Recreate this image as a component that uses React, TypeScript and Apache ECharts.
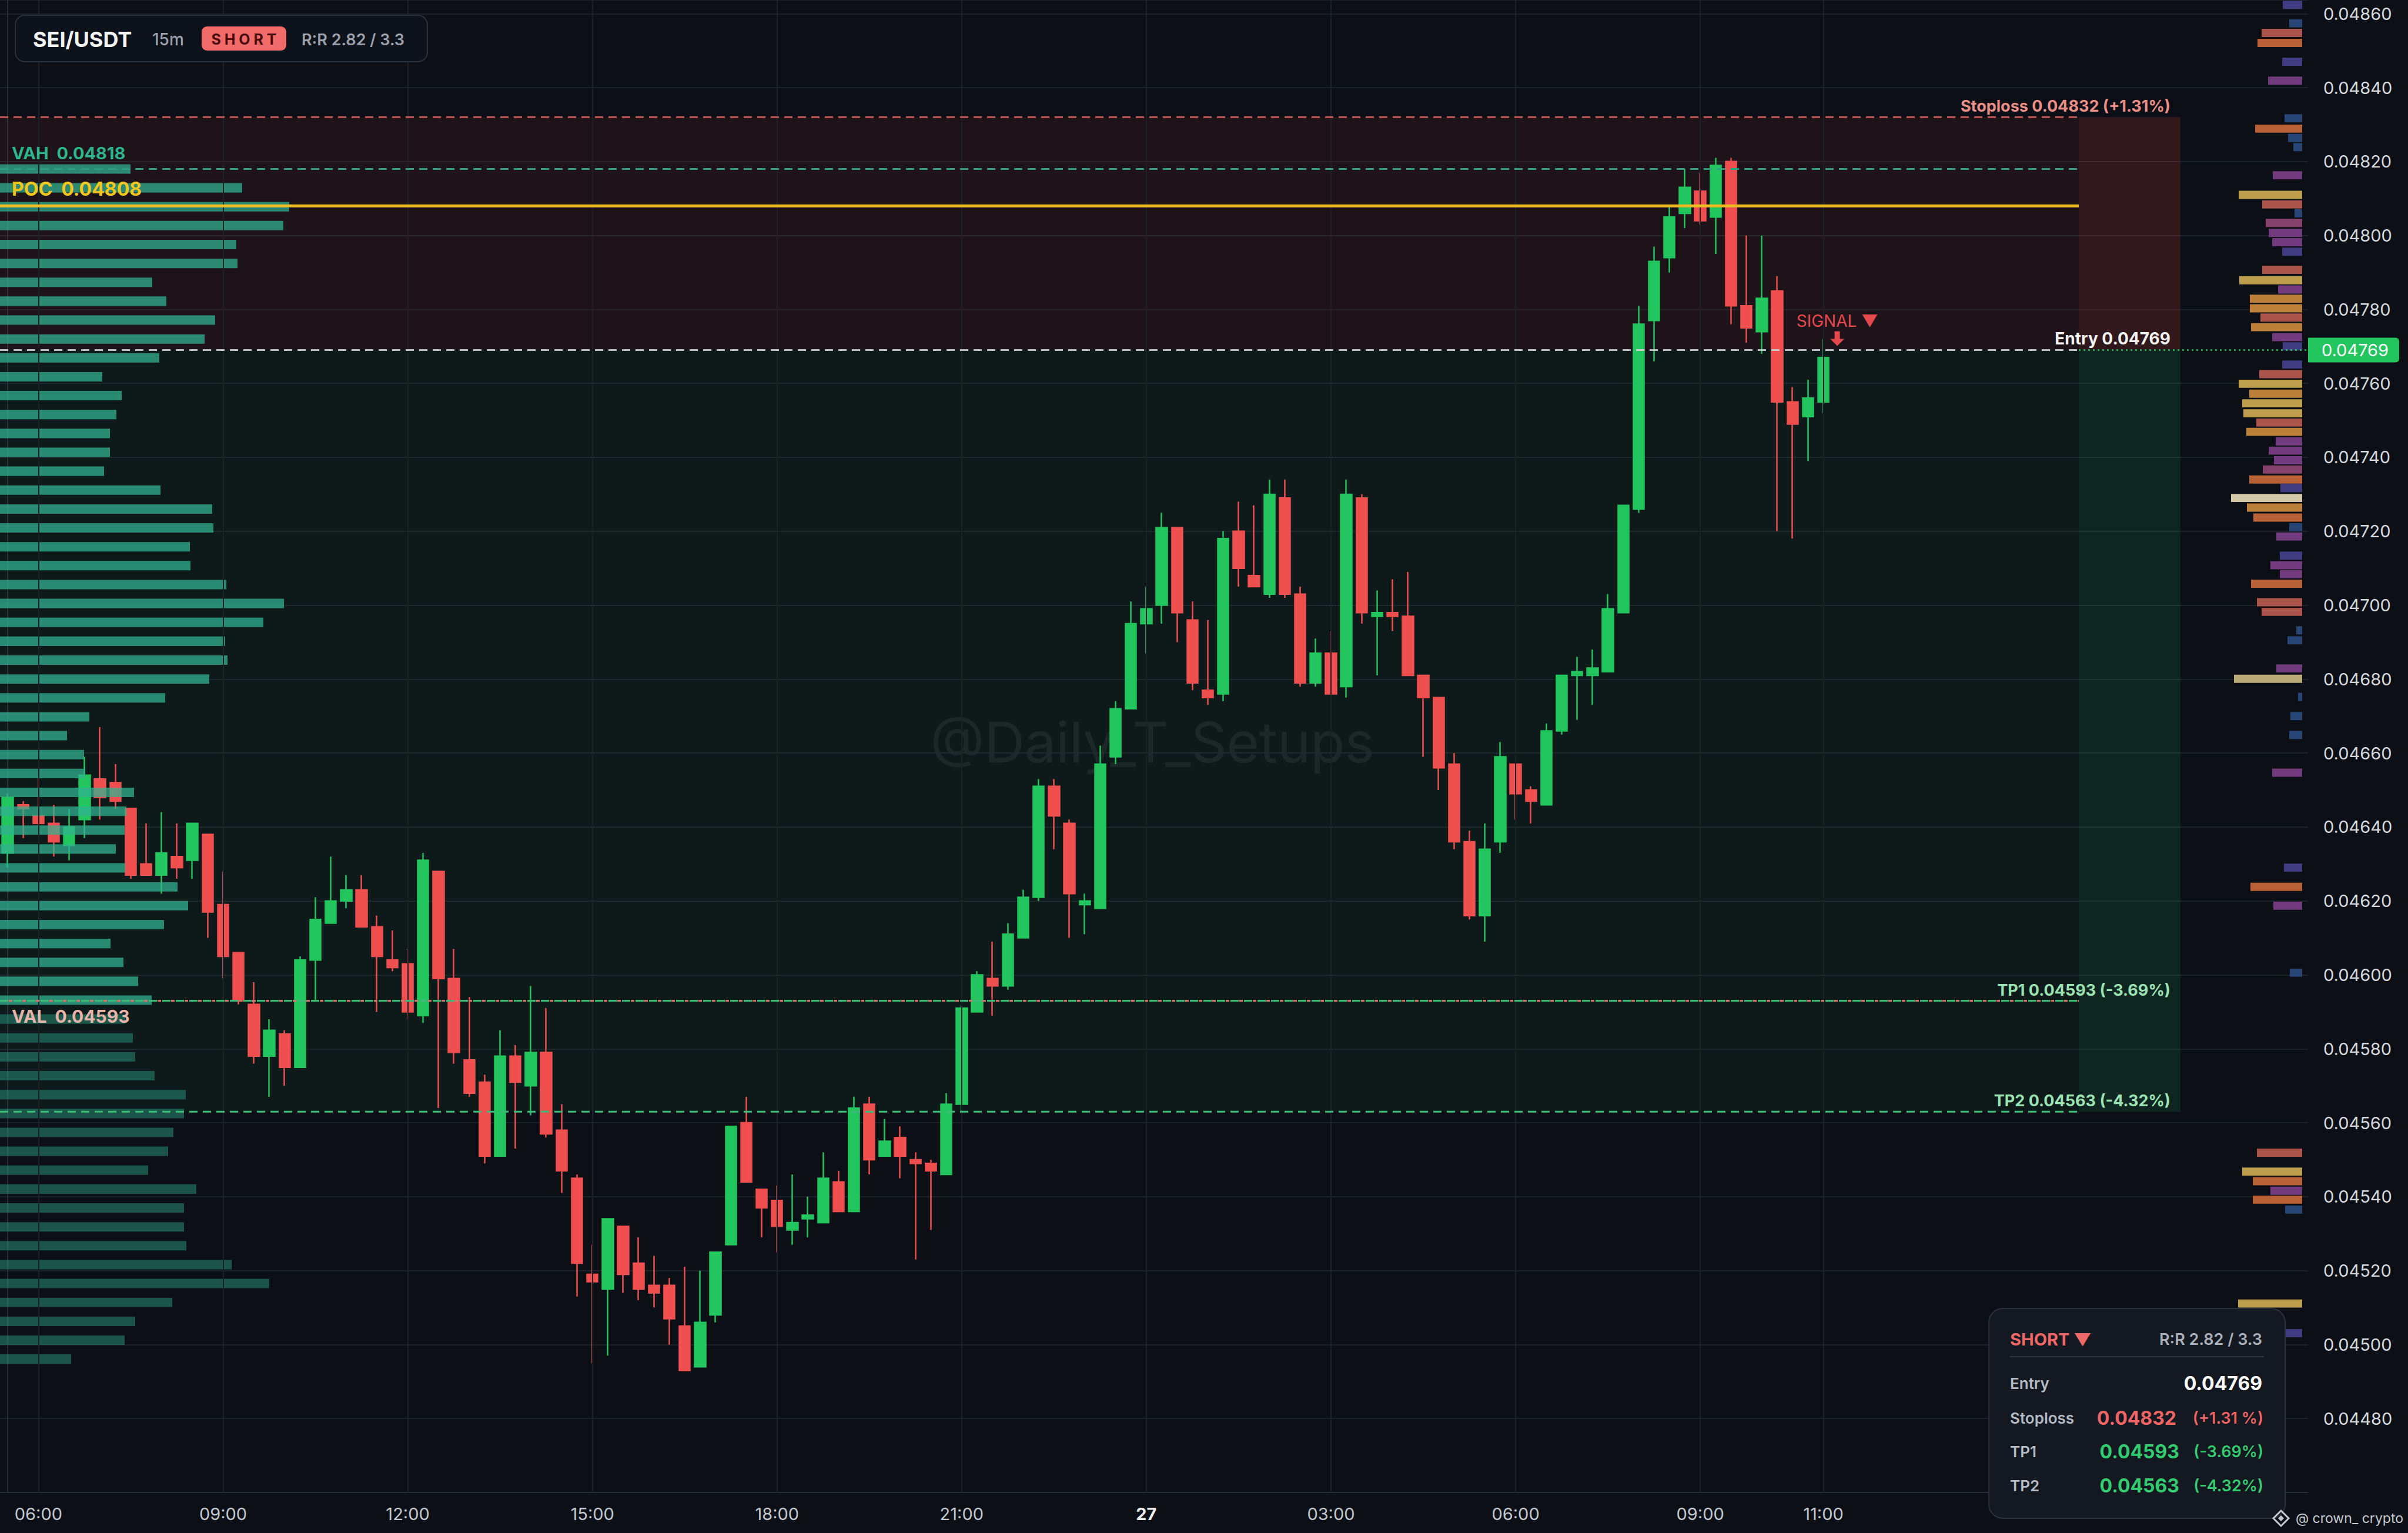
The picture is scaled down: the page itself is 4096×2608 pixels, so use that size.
import React, { useEffect, useRef } from "react";
import * as echarts from "echarts";

// ---------------- DATA ----------------
// 15m candles, 26th 05:30 -> 27th 11:00 (119 candles)
const openVals = [
  0.04633, 0.04646, 0.04643, 0.04641, 0.04635, 0.04642, 0.04653, 0.04652, 0.04645, 0.0463,
  0.04627, 0.04632, 0.04631, 0.04638, 0.04619, 0.04606, 0.04592, 0.04578, 0.04584, 0.04575,
  0.04604, 0.04614, 0.0462, 0.04623, 0.04613, 0.04604, 0.04603, 0.04589, 0.04628, 0.04599,
  0.04577, 0.04571, 0.04551, 0.04578, 0.0457, 0.04579, 0.04558, 0.04545, 0.04519, 0.04515,
  0.04532, 0.04522, 0.04516, 0.04516, 0.04505, 0.04494, 0.04508, 0.04527, 0.0456, 0.04542,
  0.04539, 0.04531, 0.04534, 0.04533, 0.04544, 0.04536, 0.04565, 0.04551, 0.04556, 0.0455,
  0.04549, 0.04546, 0.04565, 0.0459, 0.04599, 0.04597, 0.0461, 0.04621, 0.04651, 0.04641,
  0.04619, 0.04618, 0.04659, 0.04672, 0.04695, 0.047, 0.04721, 0.04696, 0.04677, 0.04676,
  0.0472, 0.04708, 0.04703, 0.04729, 0.04703, 0.04679, 0.04687, 0.04678, 0.04729, 0.04697,
  0.04698, 0.04697, 0.04681, 0.04675, 0.04657, 0.04636, 0.04616, 0.04636, 0.04657, 0.0465,
  0.04646, 0.04666, 0.04681, 0.04681, 0.04682, 0.04698, 0.04726, 0.04777, 0.04794, 0.04806,
  0.04812, 0.04805, 0.0482, 0.04781, 0.04774, 0.04785, 0.04755, 0.04751, 0.04755,
];
const closeVals = [
  0.04648, 0.04645, 0.04641, 0.04636, 0.0464, 0.04654, 0.04648, 0.04647, 0.04627, 0.04627,
  0.04633, 0.04629, 0.04641, 0.04617, 0.04605, 0.04593, 0.04578, 0.04585, 0.04575, 0.04604,
  0.04615, 0.0462, 0.04623, 0.04613, 0.04605, 0.04602, 0.0459, 0.04631, 0.04599, 0.04579,
  0.04568, 0.04551, 0.04578, 0.04571, 0.04579, 0.04557, 0.04547, 0.04522, 0.04517, 0.04534,
  0.04519, 0.04515, 0.04514, 0.04507, 0.04493, 0.04506, 0.04525, 0.04559, 0.04544, 0.04537,
  0.04532, 0.04533, 0.04535, 0.04545, 0.04536, 0.04564, 0.0455, 0.04555, 0.04551, 0.04549,
  0.04547, 0.04565, 0.04591, 0.046, 0.04597, 0.04611, 0.04621, 0.04651, 0.04643, 0.04622,
  0.0462, 0.04657, 0.04672, 0.04695, 0.04699, 0.04721, 0.04698, 0.04679, 0.04675, 0.04718,
  0.0471, 0.04705, 0.0473, 0.04703, 0.04679, 0.04687, 0.04676, 0.0473, 0.04698, 0.04698,
  0.04697, 0.04681, 0.04675, 0.04656, 0.04636, 0.04616, 0.04634, 0.04659, 0.04649, 0.04647,
  0.04666, 0.04681, 0.04682, 0.04683, 0.04699, 0.04727, 0.04776, 0.04793, 0.04805, 0.04813,
  0.04804, 0.04819, 0.04781, 0.04775, 0.04783, 0.04755, 0.04749, 0.04756, 0.04767,
];
const lowVals = [
  0.04629, 0.04637, 0.0464, 0.04632, 0.04631, 0.04637, 0.04642, 0.04645, 0.04626, 0.04627,
  0.04622, 0.04626, 0.04626, 0.0461, 0.04599, 0.04592, 0.04576, 0.04567, 0.0457, 0.04575,
  0.04593, 0.04614, 0.04618, 0.04613, 0.0459, 0.04601, 0.04588, 0.04587, 0.04564, 0.04576,
  0.04567, 0.04549, 0.04551, 0.04553, 0.04562, 0.04556, 0.04541, 0.04513, 0.04495, 0.04497,
  0.04514, 0.04512, 0.0451, 0.045, 0.04493, 0.04494, 0.04506, 0.04527, 0.04544, 0.04529,
  0.04525, 0.04527, 0.04529, 0.04533, 0.04536, 0.04536, 0.04546, 0.04551, 0.04545, 0.04523,
  0.04531, 0.04546, 0.04563, 0.0459, 0.04589, 0.04596, 0.0461, 0.0462, 0.04634, 0.0461,
  0.04611, 0.04618, 0.04657, 0.04672, 0.04687, 0.04695, 0.0469, 0.04677, 0.04673, 0.04674,
  0.04705, 0.04705, 0.04702, 0.04702, 0.04678, 0.04678, 0.04676, 0.04675, 0.04695, 0.04681,
  0.04693, 0.04681, 0.04659, 0.0465, 0.04634, 0.04615, 0.04609, 0.04633, 0.04642, 0.04641,
  0.04646, 0.04665, 0.04669, 0.04673, 0.04682, 0.04698, 0.04725, 0.04766, 0.0479, 0.04802,
  0.04803, 0.04795, 0.04776, 0.04771, 0.04768, 0.0472, 0.04718, 0.04739, 0.04752,
];
const highVals = [
  0.04649, 0.04647, 0.04654, 0.04646, 0.04645, 0.04659, 0.04667, 0.04657, 0.04645, 0.04641,
  0.04644, 0.04641, 0.04641, 0.04638, 0.04628, 0.04606, 0.04598, 0.04588, 0.04585, 0.04605,
  0.04621, 0.04632, 0.04627, 0.04627, 0.04616, 0.04612, 0.04607, 0.04633, 0.04628, 0.04607,
  0.04594, 0.04573, 0.04585, 0.04581, 0.04597, 0.04591, 0.04565, 0.04546, 0.04527, 0.04534,
  0.04532, 0.04529, 0.04524, 0.04518, 0.04521, 0.0452, 0.04525, 0.04559, 0.04567, 0.04542,
  0.04543, 0.04546, 0.0454, 0.04552, 0.04547, 0.04567, 0.04567, 0.04561, 0.04559, 0.04552,
  0.0455, 0.04568, 0.04592, 0.04601, 0.04609, 0.04614, 0.04623, 0.04653, 0.04653, 0.04642,
  0.04622, 0.04662, 0.04674, 0.04701, 0.04705, 0.04725, 0.04721, 0.04701, 0.04696, 0.0472,
  0.04728, 0.04727, 0.04734, 0.04734, 0.04705, 0.04691, 0.04693, 0.04734, 0.0473, 0.04704,
  0.04707, 0.04709, 0.04681, 0.04675, 0.0466, 0.04639, 0.04641, 0.04663, 0.04657, 0.04651,
  0.04668, 0.04681, 0.04686, 0.04688, 0.04703, 0.04727, 0.04781, 0.04797, 0.04808, 0.04818,
  0.04817, 0.04821, 0.04821, 0.048, 0.048, 0.04789, 0.04759, 0.04761, 0.04772,
];

// x axis: candle slots incl. empty future slots
const SLOT_COUNT = 150;
const xTickIndex = [2, 14, 26, 38, 50, 62, 74, 86, 98, 110, 118];
const xTickLabels = ["06:00", "09:00", "12:00", "15:00", "18:00", "21:00", "27", "03:00", "06:00", "09:00", "11:00"];

// y axis
const yMin = 0.0446;
const yMax = 0.048637;
const yStep = 0.0002;

// trade levels
const entryPrice = 0.04769;
const stopPrice = 0.04832;
const tp1Price = 0.04593;
const tp2Price = 0.04563;
const vahPrice = 0.04818;
const pocPrice = 0.04808;
const valPrice = 0.04593;
const stopPct = "+1.31%";
const stopPctBox = "+1.31 %";
const tp1Pct = "-3.69%";
const tp2Pct = "-4.32%";
const rrText = "R:R 2.82 / 3.3";

// zone extents (in candle-slot units)
const zoneStartX = -0.5;
const zoneEndX = 134.6;
const boxEndX = 141.2;
const labelEndX = 140.56;
const axisEndX = 149.5;
const signalX = 118.9;

// left volume profile (bins from VAH downwards)
const leftProfileTop = 0.04818;
const leftProfileBin = 0.0000511;
const leftValueAreaRows = 45;
const leftProfileVol = [
  222, 412, 492, 482, 402, 404, 259, 283, 366, 348, 271, 174, 207, 198, 187, 187, 177, 273, 361, 363,
  323, 324, 385, 483, 448, 383, 387, 356, 281, 152, 114, 143, 145, 228, 215, 212, 197, 213, 302, 320,
  279, 188, 210, 235, 258, 213, 226, 230, 263, 316, 313, 295, 286, 252, 334, 313, 313, 317, 394, 458,
  293, 230, 212, 121,
];

// right multi-colour profile
const rightProfileBin = 0.0000257;
const rightProfilePrice = [
  0.048624, 0.048574, 0.048548, 0.048521, 0.04847, 0.048419, 0.048317, 0.048289, 0.048264, 0.048239,
  0.048163, 0.04811, 0.048084, 0.04806, 0.048034, 0.048007, 0.047982, 0.047956, 0.047907, 0.047879,
  0.047854, 0.047829, 0.047803, 0.047778, 0.047752, 0.047725, 0.0477, 0.047651, 0.047625, 0.047599,
  0.047572, 0.047546, 0.047519, 0.047494, 0.047469, 0.047443, 0.047418, 0.047392, 0.047367, 0.04734,
  0.047317, 0.04729, 0.047264, 0.047237, 0.047211, 0.047186, 0.047134, 0.047108, 0.047084, 0.047058,
  0.047008, 0.046982, 0.046932, 0.046905, 0.046829, 0.046801, 0.046752, 0.0467, 0.046649, 0.046547,
  0.04629, 0.046238, 0.046187, 0.046006, 0.045519, 0.045468, 0.045442, 0.045416, 0.045392, 0.045365,
  0.045111, 0.045031,
];
const rightProfileVol = [
  33, 22, 69, 76, 34, 58, 30, 80, 24, 15,
  50, 108, 68, 13, 62, 57, 51, 34, 68, 107,
  41, 89, 89, 71, 87, 51, 33, 34, 73, 108,
  90, 102, 100, 78, 95, 45, 57, 48, 67, 90,
  37, 121, 94, 83, 22, 44, 38, 54, 38, 87,
  77, 69, 10, 25, 44, 116, 7, 20, 22, 51,
  31, 88, 49, 21, 77, 102, 84, 54, 84, 29,
  109, 30,
];
const rightProfileTone = [
  "i", "b", "s", "o", "i", "p", "b", "o", "b", "b",
  "p", "y", "s", "b", "k", "p", "p", "i", "s", "y",
  "p", "a", "a", "s", "a", "p", "i", "i", "s", "y",
  "a", "y", "y", "s", "a", "p", "p", "p", "k", "o",
  "i", "c", "a", "o", "b", "p", "i", "p", "p", "o",
  "s", "s", "b", "b", "p", "w", "b", "b", "b", "p",
  "i", "o", "p", "b", "s", "y", "o", "p", "o", "b",
  "y", "i",
];

// ---------------- STYLE ----------------
const BG = "#0c1016";
const GRID = "#1c2129";
const AXIS = "#272c35";
const UP = "#22c55e";
const DOWN = "#ef4f4f";
const FONT = 'Inter, "Noto Sans", "DejaVu Sans", sans-serif';
const rightPalette: Record<string, string> = {
  b: "#2a4b7e",
  i: "#463f8c",
  p: "#7b3f88",
  k: "#8f4775",
  s: "#b85a50",
  o: "#c8683a",
  a: "#cc8a3e",
  y: "#cdaa52",
  c: "#e4d8b5",
  w: "#c9b983",
};

const zones = [
  { x0: zoneStartX, x1: zoneEndX, y0: entryPrice, y1: stopPrice, fill: "rgba(239,68,68,0.075)" },
  { x0: zoneEndX, x1: boxEndX, y0: entryPrice, y1: stopPrice, fill: "rgba(239,68,68,0.17)" },
  { x0: zoneStartX, x1: zoneEndX, y0: tp2Price, y1: entryPrice, fill: "rgba(34,197,94,0.055)" },
  { x0: zoneEndX, x1: boxEndX, y0: tp2Price, y1: entryPrice, fill: "rgba(34,197,94,0.13)" },
];

const levels = [
  { x0: zoneStartX, x1: zoneEndX, p: stopPrice, color: "rgba(214,96,96,0.9)", width: 3, dash: [14, 9], offset: 0 },
  { x0: zoneStartX, x1: zoneEndX, p: vahPrice, color: "#2f9d80", width: 3, dash: [14, 9], offset: 0 },
  { x0: zoneStartX, x1: zoneEndX, p: pocPrice, color: "#e8b923", width: 5, dash: null, offset: 0 },
  { x0: zoneStartX, x1: zoneEndX, p: entryPrice, color: "rgba(214,216,220,0.85)", width: 3, dash: [14, 9], offset: 0 },
  { x0: zoneStartX, x1: zoneEndX, p: tp1Price, color: "#3dbb78", width: 3, dash: [14, 9], offset: 0 },
  { x0: zoneStartX, x1: zoneEndX, p: valPrice, color: "#d0766c", width: 3, dash: [6, 17], offset: 7.5 },
  { x0: zoneStartX, x1: zoneEndX, p: tp2Price, color: "#3dbb78", width: 3, dash: [14, 9], offset: 0 },
  { x0: zoneEndX, x1: axisEndX, p: entryPrice, color: "#2fcf6f", width: 2.5, dash: [3, 5], offset: 0 },
];

const levelLabels = [
  { x: zoneStartX, p: vahPrice, text: `VAH  ${vahPrice.toFixed(5)}`, color: "#2fb58d", size: 29, dx: 20, dy: -12, align: "left", va: "bottom" },
  { x: zoneStartX, p: pocPrice, text: `POC  ${pocPrice.toFixed(5)}`, color: "#f2c71d", size: 32, dx: 20, dy: -13, align: "left", va: "bottom" },
  { x: zoneStartX, p: valPrice, text: `VAL  ${valPrice.toFixed(5)}`, color: "#e6b4ab", size: 30, dx: 20, dy: 11, align: "left", va: "top" },
  { x: labelEndX, p: stopPrice, text: `Stoploss ${stopPrice.toFixed(5)} (${stopPct})`, color: "#ec8f88", size: 27, dx: 0, dy: -5, align: "right", va: "bottom" },
  { x: labelEndX, p: entryPrice, text: `Entry ${entryPrice.toFixed(5)}`, color: "#f2f2f2", size: 28, dx: 0, dy: -6, align: "right", va: "bottom" },
  { x: labelEndX, p: tp1Price, text: `TP1 ${tp1Price.toFixed(5)} (${tp1Pct})`, color: "#9be3b4", size: 27, dx: 0, dy: -5, align: "right", va: "bottom" },
  { x: labelEndX, p: tp2Price, text: `TP2 ${tp2Price.toFixed(5)} (${tp2Pct})`, color: "#9be3b4", size: 27, dx: 0, dy: -5, align: "right", va: "bottom" },
];

function txt(text: string, x: number, y: number, size: number, color: string, weight: any = "normal", align = "left", z = 20) {
  return {
    type: "text",
    z,
    style: {
      text,
      x,
      y,
      fill: color,
      fontSize: size,
      fontWeight: weight,
      fontFamily: FONT,
      align,
      textAlign: align,
      verticalAlign: "middle",
      textVerticalAlign: "middle",
    },
  };
}

function buildOption(): any {
  const categories = Array.from({ length: SLOT_COUNT }, (_, i) => String(i));
  const tickSet = new Set(xTickIndex);
  const candleData = openVals.map((o, i) => [o, closeVals[i], lowVals[i], highVals[i]]);
  const leftData = leftProfileVol.map((v, i) => [v, leftProfileTop - i * leftProfileBin]);
  const rightData = rightProfileVol.map((v, i) => [v, rightProfilePrice[i]]);

  const custom = (extra: any) => ({
    type: "custom",
    coordinateSystem: "cartesian2d",
    yAxisIndex: 0,
    silent: true,
    clip: false,
    ...extra,
  });

  return {
    animation: false,
    backgroundColor: BG,
    textStyle: { fontFamily: FONT },
    grid: { left: 0, right: 170, top: 0, bottom: 69, containLabel: false, outerBoundsMode: "none" },
    xAxis: [
      {
        type: "category",
        data: categories,
        boundaryGap: true,
        axisLine: { show: true, lineStyle: { color: AXIS, width: 2 } },
        axisTick: { show: false },
        splitLine: { show: false },
        axisLabel: {
          interval: (index: number) => tickSet.has(index),
          formatter: (v: string) => {
            const k = xTickIndex.indexOf(Number(v));
            if (k < 0) return "";
            const s = xTickLabels[k];
            return s === "27" ? "{b|27}" : s;
          },
          color: "#c3c8cf",
          fontSize: 29,
          fontFamily: FONT,
          margin: 22,
          rich: { b: { fontWeight: "bold", color: "#eceef1", fontSize: 29, fontFamily: FONT } },
        },
      },
      { type: "value", min: -0.5, max: SLOT_COUNT - 0.5, show: false },
      { type: "value", min: 0, max: 3926, show: false },
      { type: "value", min: -10, max: 3916, inverse: true, show: false },
    ],
    yAxis: {
      type: "value",
      position: "right",
      min: yMin,
      max: yMax,
      interval: yStep,
      axisLine: { show: true, lineStyle: { color: AXIS, width: 2 } },
      axisTick: { show: false },
      splitLine: { show: true, lineStyle: { color: GRID, width: 2 } },
      axisLabel: {
        showMinLabel: false,
        formatter: (v: number) => {
          const r = v / yStep;
          if (Math.abs(r - Math.round(r)) > 1e-4) return "";
          return v.toFixed(5);
        },
        color: "#d5d9de",
        fontSize: 29,
        fontFamily: FONT,
        margin: 26,
      },
    },
    series: [
      // zones + vertical grid lines
      custom({
        name: "zones",
        xAxisIndex: 1,
        z: 1,
        data: zones.map((z) => [z.x0, z.x1, z.y0, z.y1]),
        encode: { x: [0, 1], y: [2, 3] },
        renderItem: (params: any, api: any) => {
          const a = api.coord([api.value(0), api.value(3)]);
          const b = api.coord([api.value(1), api.value(2)]);
          return {
            type: "rect",
            shape: { x: a[0], y: a[1], width: b[0] - a[0], height: b[1] - a[1] },
            style: { fill: zones[params.dataIndex].fill },
          };
        },
        markLine: {
          silent: true,
          symbol: ["none", "none"],
          label: { show: false },
          lineStyle: { color: GRID, width: 2, type: "solid" },
          emphasis: { disabled: true },
          data: xTickIndex.map((i) => ({ xAxis: i })),
        },
      }),
      // candles
      {
        type: "candlestick",
        name: "SEI/USDT",
        xAxisIndex: 0,
        yAxisIndex: 0,
        z: 3,
        barWidth: "72%",
        data: candleData,
        itemStyle: {
          color: UP,
          color0: DOWN,
          borderColor: UP,
          borderColor0: DOWN,
          borderWidth: 2.5,
        },
        silent: true,
      },
      // left profile
      custom({
        name: "leftProfile",
        xAxisIndex: 2,
        z: 4,
        data: leftData,
        encode: { x: 0, y: 1 },
        renderItem: (params: any, api: any) => {
          const vol = api.value(0);
          const price = api.value(1);
          const a = api.coord([0, price]);
          const b = api.coord([vol, price]);
          const h = Math.abs(api.size([0, leftProfileBin])[1]) * 0.5;
          const inVA = params.dataIndex < leftValueAreaRows;
          return {
            type: "rect",
            shape: { x: a[0], y: a[1] - h / 2, width: b[0] - a[0], height: h },
            style: { fill: inVA ? "rgba(50,178,143,0.74)" : "rgba(40,140,115,0.55)" },
          };
        },
      }),
      // right profile
      custom({
        name: "rightProfile",
        xAxisIndex: 3,
        z: 4,
        data: rightData,
        encode: { x: 0, y: 1 },
        renderItem: (params: any, api: any) => {
          const vol = api.value(0);
          const price = api.value(1);
          const a = api.coord([0, price]);
          const b = api.coord([vol, price]);
          const h = Math.abs(api.size([0, rightProfileBin])[1]) * 0.86;
          return {
            type: "rect",
            shape: { x: b[0], y: a[1] - h / 2, width: a[0] - b[0], height: h },
            style: { fill: rightPalette[rightProfileTone[params.dataIndex]], opacity: 0.92 },
          };
        },
      }),
      // level lines
      custom({
        name: "levels",
        xAxisIndex: 1,
        z: 5,
        data: levels.map((l) => [l.x0, l.x1, l.p]),
        encode: { x: [0, 1], y: 2 },
        renderItem: (params: any, api: any) => {
          const l = levels[params.dataIndex];
          const a = api.coord([api.value(0), api.value(2)]);
          const b = api.coord([api.value(1), api.value(2)]);
          return {
            type: "line",
            shape: { x1: a[0], y1: a[1], x2: b[0], y2: b[1] },
            style: {
              stroke: l.color,
              lineWidth: l.width,
              lineDash: l.dash || undefined,
              lineDashOffset: l.offset,
            },
          };
        },
      }),
      // level labels
      custom({
        name: "levelLabels",
        xAxisIndex: 1,
        z: 6,
        data: levelLabels.map((l) => [l.x, l.p]),
        encode: { x: 0, y: 1 },
        renderItem: (params: any, api: any) => {
          const l = levelLabels[params.dataIndex];
          const p = api.coord([api.value(0), api.value(1)]);
          return {
            type: "text",
            style: {
              text: l.text,
              x: p[0] + l.dx,
              y: p[1] + l.dy,
              fill: l.color,
              fontSize: l.size,
              fontWeight: "bold",
              fontFamily: FONT,
              align: l.align,
              textAlign: l.align,
              verticalAlign: l.va,
              textVerticalAlign: l.va,
            },
          };
        },
      }),
      // current price tag on the axis
      custom({
        name: "priceTag",
        xAxisIndex: 1,
        z: 10,
        data: [[axisEndX, entryPrice]],
        encode: { x: 0, y: 1 },
        renderItem: (params: any, api: any) => {
          const p = api.coord([api.value(0), api.value(1)]);
          return {
            type: "group",
            children: [
              {
                type: "rect",
                shape: { x: p[0], y: p[1] - 21, width: 155, height: 42, r: [0, 6, 6, 0] },
                style: { fill: UP },
              },
              {
                type: "text",
                style: {
                  text: entryPrice.toFixed(5),
                  x: p[0] + 80,
                  y: p[1],
                  fill: "#ffffff",
                  fontSize: 29,
                  fontFamily: FONT,
                  align: "center",
                  textAlign: "center",
                  verticalAlign: "middle",
                  textVerticalAlign: "middle",
                },
              },
            ],
          };
        },
      }),
      // signal marker
      custom({
        name: "signal",
        xAxisIndex: 1,
        z: 10,
        data: [[signalX, entryPrice]],
        encode: { x: 0, y: 1 },
        renderItem: (params: any, api: any) => {
          const p = api.coord([api.value(0), api.value(1)]);
          const x = p[0];
          const y = p[1];
          return {
            type: "group",
            children: [
              {
                type: "text",
                style: {
                  text: "SIGNAL ▼",
                  x,
                  y: y - 50,
                  fill: "#e5484d",
                  fontSize: 28,
                  fontFamily: FONT,
                  align: "center",
                  textAlign: "center",
                  verticalAlign: "middle",
                  textVerticalAlign: "middle",
                },
              },
              { type: "rect", shape: { x: x - 4.5, y: y - 32, width: 9, height: 14 }, style: { fill: "#e5484d" } },
              {
                type: "polygon",
                shape: { points: [[x - 12, y - 19], [x + 12, y - 19], [x, y - 7]] },
                style: { fill: "#e5484d" },
              },
            ],
          };
        },
      }),
    ],
    graphic: [
      // centre watermark
      {
        type: "text",
        z: 0,
        style: {
          text: "@Daily_T_Setups",
          x: 1960,
          y: 1262,
          fill: "rgba(255,255,255,0.065)",
          fontSize: 95,
          fontFamily: FONT,
          align: "center",
          textAlign: "center",
          verticalAlign: "middle",
          textVerticalAlign: "middle",
        },
      },
      // header box
      {
        type: "rect",
        z: 19,
        shape: { x: 26, y: 26, width: 701, height: 79, r: 16 },
        style: { fill: "#0e121a", stroke: "#2a303a", lineWidth: 2 },
      },
      txt("SEI/USDT", 56, 67, 36, "#f3f4f6", "bold"),
      txt("15m", 259, 67, 28, "#9ba2ad", 500),
      {
        type: "rect",
        z: 20,
        shape: { x: 343, y: 45, width: 144, height: 41, r: 9 },
        style: { fill: "#f26b6b" },
      },
      txt("S H O R T", 415, 67, 25, "#4b0a0a", "bold", "center", 21),
      txt(rrText, 513, 67, 27, "#9ba2ad", 600),
      // info box
      {
        type: "rect",
        z: 19,
        shape: { x: 3383, y: 2226, width: 504, height: 357, r: 24 },
        style: { fill: "#131821", stroke: "#2b313c", lineWidth: 2 },
      },
      txt("SHORT ▼", 3419, 2278, 29, "#ef6767", "bold"),
      txt(rrText, 3848, 2278, 27, "#a9afb9", 600, "right"),
      {
        type: "line",
        z: 20,
        shape: { x1: 3419, y1: 2308, x2: 3851, y2: 2308 },
        style: { stroke: "#2f3540", lineWidth: 2 },
      },
      txt("Entry", 3419, 2353, 26, "#b4bac4", 600),
      txt(entryPrice.toFixed(5), 3848, 2353, 32, "#ffffff", "bold", "right"),
      txt("Stoploss", 3419, 2412, 26, "#b4bac4", 600),
      txt(stopPrice.toFixed(5), 3702, 2412, 32, "#ef6464", "bold", "right"),
      txt(`(${stopPctBox})`, 3850, 2412, 27, "#ef6464", 600, "right"),
      txt("TP1", 3419, 2469, 26, "#b4bac4", 600),
      txt(tp1Price.toFixed(5), 3707, 2469, 32, "#33cc70", "bold", "right"),
      txt(`(${tp1Pct})`, 3850, 2469, 27, "#33cc70", 600, "right"),
      txt("TP2", 3419, 2527, 26, "#b4bac4", 600),
      txt(tp2Price.toFixed(5), 3707, 2527, 32, "#33cc70", "bold", "right"),
      txt(`(${tp2Pct})`, 3850, 2527, 27, "#33cc70", 600, "right"),
      // bottom-right credit
      {
        type: "polygon",
        z: 22,
        shape: { points: [[3880, 2570], [3893, 2583], [3880, 2596], [3867, 2583]] },
        style: { fill: "none", stroke: "#c5c9cf", lineWidth: 3 },
      },
      {
        type: "polygon",
        z: 22,
        shape: { points: [[3880, 2578], [3885, 2583], [3880, 2588], [3875, 2583]] },
        style: { fill: "#c5c9cf" },
      },
      txt("@ crown_ crypto", 4088, 2583, 23, "#c5c9cf", "normal", "right", 22),
    ],
  };
}

export default function App() {
  const ref = useRef<HTMLDivElement>(null);
  useEffect(() => {
    document.body.style.margin = "0";
    document.body.style.background = BG;
    const chart = echarts.init(ref.current as HTMLDivElement, undefined, {
      renderer: "svg",
      width: 4096,
      height: 2608,
    });
    chart.setOption(buildOption());
    return () => chart.dispose();
  }, []);
  return (
    <div
      ref={ref}
      style={{ position: "absolute", left: 0, top: 0, width: 4096, height: 2608, background: BG }}
    />
  );
}
